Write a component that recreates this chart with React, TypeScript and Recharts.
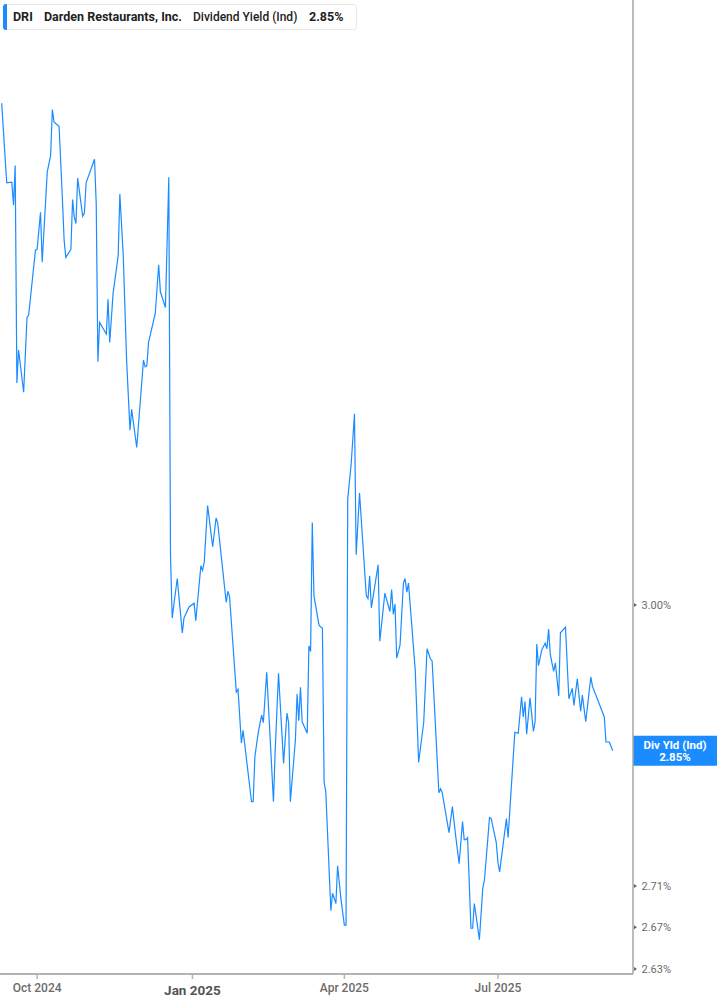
import { LineChart, Line, XAxis, YAxis, ReferenceLine } from "recharts";

// days counted from 2025-01-01 (negative = 2024)
const days = [
  -113, -111, -110, -107, -106, -105, -104, -103, -100, -98, -97, -93, -92, -90, -89, -86, -84, -83, -82,
  -79, -77, -76, -75, -72, -71, -70, -69, -68, -65, -64, -63, -58, -57, -56, -55, -51, -50, -49, -47,
  -44, -43, -41, -39, -37, -36, -33, -29, -28, -27, -26, -22, -20, -19, -16, -14, -13, -12, -9, -6,
  -5, -2, 1, 2, 5, 6, 7, 9, 12, 14, 15, 20, 21, 22, 26, 27, 29, 30, 35, 36,
  37, 39, 41, 42, 44, 48, 49, 51, 54, 56, 57, 58, 61, 62, 63, 64, 65, 68, 69, 70,
  71, 72, 75, 77, 78, 79, 82, 83, 85, 86, 88, 90, 91, 92, 94, 96, 97, 99, 103, 104,
  105, 106, 110, 111, 114, 117, 118, 119, 120, 121, 123, 125, 126, 127, 128, 132, 134, 137, 139, 141,
  142, 146, 147, 148, 152, 154, 156, 158, 160, 161, 162, 163, 165, 166, 167, 170, 172, 173, 176, 177,
  180, 181, 182, 186, 187, 191, 193, 195, 196, 197, 198, 200, 202, 203, 204, 205, 207, 209, 210, 211,
  212, 214, 215, 217, 218, 221, 223, 225, 226, 228, 230, 231, 233, 236, 237, 244, 245, 247, 249,
];

// Dividend Yield (Ind), %
const yields = [
  3.597, 3.528, 3.495, 3.496, 3.467, 3.517, 3.251, 3.29, 3.24, 3.329, 3.332, 3.411, 3.412, 3.458, 3.396, 3.509, 3.53, 3.589, 3.573,
  3.567, 3.473, 3.423, 3.402, 3.412, 3.474, 3.452, 3.444, 3.501, 3.453, 3.457, 3.495, 3.525, 3.469, 3.276, 3.323, 3.309, 3.351, 3.299, 3.358,
  3.404, 3.481, 3.405, 3.278, 3.196, 3.22, 3.176, 3.278, 3.27, 3.271, 3.299, 3.334, 3.393, 3.36, 3.341, 3.502, 3.055, 2.986, 3.029, 2.97,
  2.986, 2.998, 3.002, 2.983, 3.043, 3.038, 3.047, 3.11, 3.064, 3.096, 3.09, 3.003, 3.015, 3.009, 2.907, 2.91, 2.854, 2.867, 2.794, 2.794,
  2.84, 2.865, 2.883, 2.875, 2.928, 2.794, 2.845, 2.927, 2.833, 2.885, 2.875, 2.794, 2.857, 2.905, 2.877, 2.912, 2.876, 2.864, 2.956, 2.95,
  3.091, 3.01, 2.978, 2.975, 2.814, 2.804, 2.686, 2.703, 2.693, 2.73, 2.697, 2.672, 2.672, 3.118, 3.156, 3.215, 3.055, 3.124, 3.01, 3.007,
  3.032, 2.997, 3.044, 2.961, 3.013, 2.993, 3.017, 2.99, 3.001, 2.943, 2.957, 3.024, 3.029, 3.014, 3.024, 2.93, 2.834, 2.875, 2.953, 2.942,
  2.94, 2.803, 2.807, 2.803, 2.763, 2.789, 2.759, 2.732, 2.774, 2.756, 2.756, 2.758, 2.669, 2.669, 2.693, 2.658, 2.708, 2.716, 2.778, 2.777,
  2.753, 2.733, 2.724, 2.777, 2.758, 2.865, 2.864, 2.902, 2.881, 2.897, 2.863, 2.901, 2.866, 2.876, 2.958, 2.935, 2.952, 2.959, 2.953, 2.974,
  2.947, 2.929, 2.938, 2.903, 2.97, 2.976, 2.9, 2.911, 2.893, 2.921, 2.887, 2.904, 2.876, 2.923, 2.913, 2.881, 2.855, 2.855, 2.846,
];

const xTicks = [-92, 0, 90, 181];
const xTickLabels = ["Oct 2024", "Jan 2025", "Apr 2025", "Jul 2025"];
const yTicks = [2.63, 2.67, 2.71, 3.0];

const BLUE = "#1a8cff";
const FONT = "Roboto, 'Liberation Sans', sans-serif";

const data = days.map((d, i) => ({ day: d, dy: yields[i] }));
const lastYield = yields[yields.length - 1];

function XTick(props: any) {
  const { x, y, payload } = props;
  const label = xTickLabels[xTicks.indexOf(payload.value)];
  const big = label === "Jan 2025";
  return (
    <text
      x={x}
      y={y + (big ? 14 : 11)}
      textAnchor="middle"
      fill={big ? "#555" : "#6b6b6b"}
      fontSize={big ? 13.5 : 12}
      fontWeight={big ? 700 : 500}
      fontFamily={FONT}
    >
      {label}
    </text>
  );
}

function YTick(props: any) {
  const { x, y, payload } = props;
  return (
    <g>
      <path d={`M${x + 1},${y - 2} L${x + 4},${y} L${x + 1},${y + 2} Z`} fill="#666" />
      <text x={x + 8.5} y={y + 4} fill="#6b6b6b" fontSize={11} fontFamily={FONT}>
        {payload.value.toFixed(2) + "%"}
      </text>
    </g>
  );
}

function LastLabel(props: any) {
  const vb = props.viewBox || {};
  const left = vb.x + vb.width;
  const cy = vb.y;
  return (
    <g>
      <rect x={left} y={cy - 15} width={84} height={30} fill={BLUE} />
      <text x={left + 42} y={cy - 2} textAnchor="middle" fill="#fff" fontSize={11.5} fontWeight={700} fontFamily={FONT}>
        Div Yld (Ind)
      </text>
      <text x={left + 42} y={cy + 10} textAnchor="middle" fill="#fff" fontSize={11.5} fontWeight={700} fontFamily={FONT}>
        {lastYield.toFixed(2) + "%"}
      </text>
    </g>
  );
}

export default function App() {
  return (
    <div style={{ position: "absolute", left: 0, top: 0, width: 717, height: 1005, background: "#fff" }}>
      <LineChart width={717} height={1005} data={data} margin={{ top: 0, right: 0, bottom: 0, left: 0 }}>
        <XAxis
          dataKey="day"
          type="number"
          domain={[-114, 261]}
          ticks={xTicks}
          allowDataOverflow
          height={31}
          stroke="#b3b3b3"
          strokeWidth={2}
          tickLine={{ stroke: "#b3b3b3", strokeWidth: 1.5 }}
          tickSize={5}
          tick={<XTick />}
        />
        <YAxis
          orientation="right"
          type="number"
          scale="log"
          domain={[2.6252, 3.734]}
          allowDataOverflow
          ticks={yTicks}
          width={84}
          stroke="#a6a6a6"
          strokeWidth={1.5}
          tickLine={false}
          tickSize={0}
          tickMargin={0}
          tick={<YTick />}
        />
        <ReferenceLine y={lastYield} stroke="none" label={<LastLabel />} />
        <Line
          type="linear"
          dataKey="dy"
          stroke={BLUE}
          strokeWidth={1.2}
          dot={false}
          activeDot={false}
          isAnimationActive={false}
        />
      </LineChart>
      <div
        style={{
          position: "absolute",
          left: 3,
          top: 4,
          width: 354,
          height: 26,
          boxSizing: "border-box",
          border: "1px solid #e8e8e8",
          borderRadius: 3,
          background: "#fff",
          fontFamily: FONT,
          fontSize: 12.5,
          color: "#222",
          lineHeight: "24px",
        }}
      >
        <div style={{ position: "absolute", left: -1, top: -1, width: 4, height: 26, background: BLUE, borderRadius: "3px 0 0 3px" }} />
        <span style={{ position: "absolute", left: 9, fontWeight: 700 }}>DRI</span>
        <span style={{ position: "absolute", left: 40, fontWeight: 700 }}>Darden Restaurants, Inc.</span>
        <span style={{ position: "absolute", left: 189, fontWeight: 500, fontSize: 12 }}>Dividend Yield (Ind)</span>
        <span style={{ position: "absolute", left: 305, fontWeight: 700 }}>2.85%</span>
      </div>
    </div>
  );
}
